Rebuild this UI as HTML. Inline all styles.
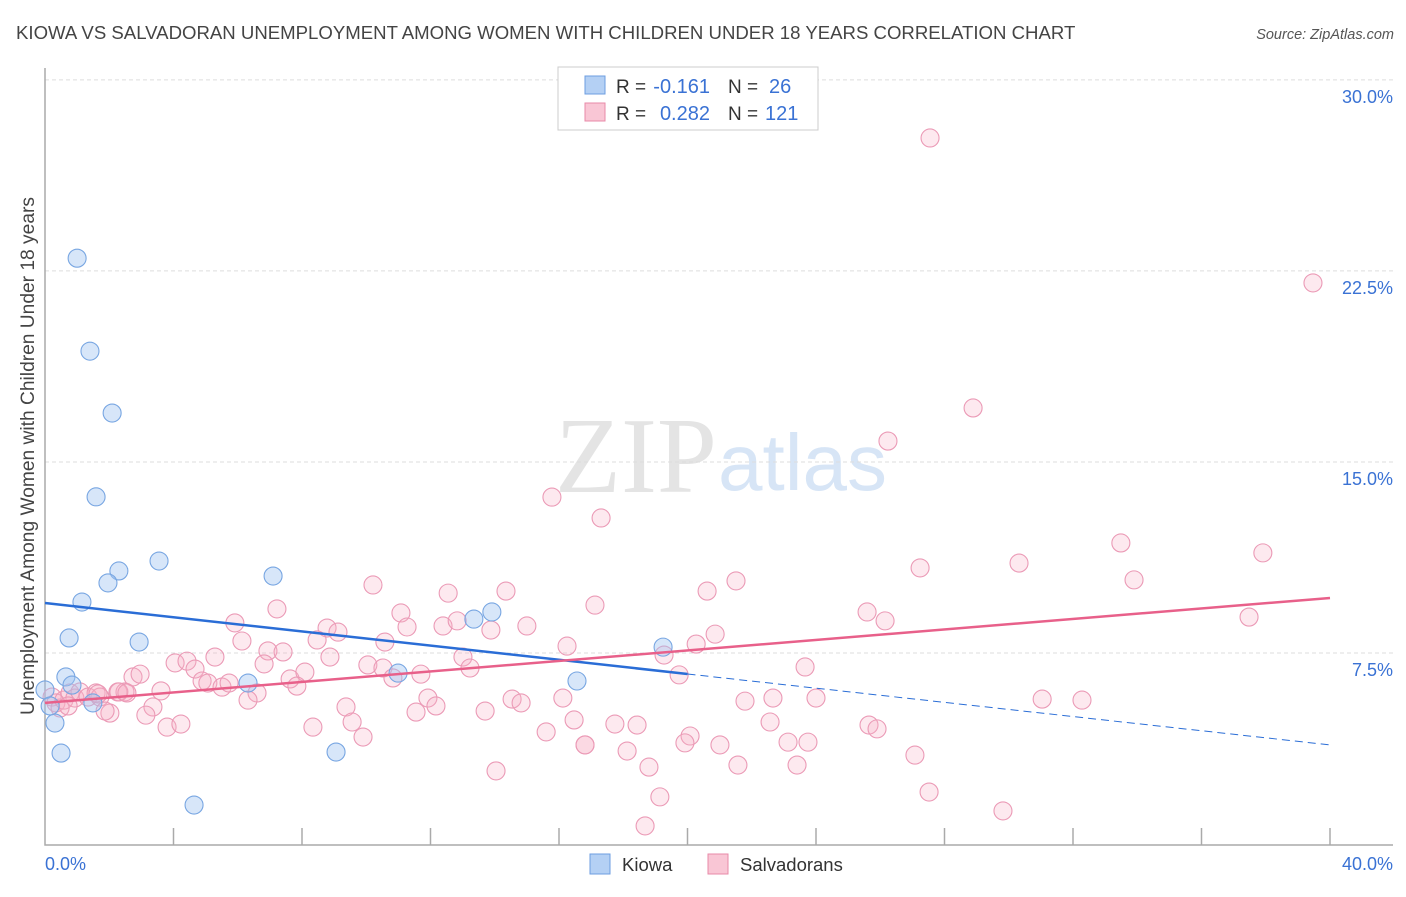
<!DOCTYPE html>
<html><head><meta charset="utf-8"><style>
body{margin:0;background:#fff;font-family:"Liberation Sans",sans-serif;}
svg text{font-family:"Liberation Sans",sans-serif;}
</style></head><body>
<svg id="chart" width="1406" height="892" xmlns="http://www.w3.org/2000/svg">
<text x="16" y="39" font-size="18.6" fill="#444">KIOWA VS SALVADORAN UNEMPLOYMENT AMONG WOMEN WITH CHILDREN UNDER 18 YEARS CORRELATION CHART</text>
<text x="1394" y="39" font-size="14.5" fill="#555" font-style="italic" text-anchor="end">Source: ZipAtlas.com</text>
<g>
<text x="555" y="492" font-size="108" fill="#e4e4e4" style="font-family:'Liberation Serif',serif">ZIP</text>
<text x="718" y="490" font-size="80" fill="#d7e5f6">atlas</text>
</g>
<g id="grid"></g>
<g id="axes"></g>
<g id="pts"></g>
<g id="lines"></g>
<text transform="translate(34,456) rotate(-90)" font-size="19.2" fill="#444" text-anchor="middle">Unemployment Among Women with Children Under 18 years</text>
<g>
<rect x="558" y="67" width="260" height="63" fill="#fff" stroke="#ccc"/>
<rect x="585" y="76" width="20" height="18" fill="#b4d0f4" stroke="#6d9ee0"/>
<text x="616" y="93" font-size="19" fill="#333">R =</text>
<text x="710" y="93" font-size="20" fill="#3a72d4" text-anchor="end">-0.161</text>
<text x="728" y="93" font-size="19" fill="#333">N =</text>
<text x="769" y="93" font-size="20" fill="#3a72d4">26</text>
<rect x="585" y="103" width="20" height="18" fill="#f9c6d5" stroke="#e88aa8"/>
<text x="616" y="120" font-size="19" fill="#333">R =</text>
<text x="710" y="120" font-size="20" fill="#3a72d4" text-anchor="end">0.282</text>
<text x="728" y="120" font-size="19" fill="#333">N =</text>
<text x="765" y="120" font-size="20" fill="#3a72d4">121</text>
</g>
<g>
<rect x="590" y="854" width="20" height="20" fill="#b4d0f4" stroke="#6d9ee0"/>
<text x="622" y="871" font-size="18.5" fill="#333">Kiowa</text>
<rect x="708" y="854" width="20" height="20" fill="#f9c6d5" stroke="#e88aa8"/>
<text x="740" y="871" font-size="18.5" fill="#333">Salvadorans</text>
</g>
</svg>
<script>
const yTicks=[7.5,15,22.5,30];
const yTickLabels=["7.5%","15.0%","22.5%","30.0%"];
const xTickVals=[4,8,12,16,20,24,28,32,36,40];
const xLabels=["0.0%","40.0%"];
const kiowaX=[1.0,1.4,2.09,1.59,1.15,2.3,1.96,3.55,0.75,2.93,7.1,13.35,13.91,10.99,16.56,19.24,0.65,0.84,1.49,6.32,0.31,0.5,9.06,4.64,0.0,0.16];
const kiowaY=[23.0,19.35,16.92,13.63,9.5,10.72,10.25,11.11,8.09,7.93,10.52,8.83,9.11,6.71,6.4,7.73,6.56,6.24,5.54,6.32,4.75,3.57,3.61,1.53,6.05,5.42];
const salvX=[0.22,0.34,0.47,0.59,0.78,0.93,1.09,1.34,1.59,1.71,2.02,2.27,2.49,1.87,0.72,10.21,12.55,7.22,11.08,11.27,12.39,12.83,5.91,6.13,8.78,9.12,8.47,10.58,13.88,6.94,7.41,5.29,8.87,4.05,4.42,4.67,6.82,10.05,10.52,13.01,13.23,2.74,2.96,4.89,5.07,5.51,5.73,6.6,6.32,7.63,8.09,7.84,10.83,11.7,11.92,12.17,11.55,13.7,3.61,2.3,2.55,1.65,3.36,3.14,3.8,4.23,9.37,9.56,9.9,8.34,14.04,15.78,17.31,14.35,15.0,17.12,16.25,19.27,20.27,20.86,20.61,21.51,19.74,23.66,25.59,26.15,27.24,14.54,14.82,16.12,16.47,15.6,17.74,18.43,16.81,16.81,18.12,18.8,20.08,19.92,21.01,21.57,19.14,18.68,21.79,22.66,24.0,22.57,23.13,23.75,23.41,25.65,25.9,27.08,27.52,27.55,39.47,28.89,26.24,33.49,37.91,30.32,33.9,37.48,31.04,32.28,29.82];
const salvY=[5.77,5.54,5.34,5.65,5.93,5.73,5.97,5.77,5.93,5.77,5.14,5.97,5.97,5.22,5.42,10.17,9.85,9.23,9.07,8.52,8.56,8.76,8.68,7.97,8.48,8.32,8.01,7.93,8.4,7.58,7.54,7.34,7.34,7.11,7.18,6.87,7.07,7.03,6.91,7.34,6.91,6.56,6.67,6.4,6.32,6.16,6.32,5.93,5.65,6.48,6.75,6.2,6.52,6.67,5.73,5.42,5.18,5.22,6.01,5.97,5.93,5.89,5.38,5.06,4.59,4.71,5.38,4.79,4.2,4.59,2.87,13.62,12.8,9.93,8.56,9.38,7.77,7.42,7.85,8.24,9.93,10.33,6.64,6.95,9.11,8.76,10.84,5.69,5.54,5.73,4.87,4.4,4.71,4.67,3.89,3.89,3.65,3.02,4.24,3.97,3.89,3.1,1.85,0.71,5.61,5.73,5.73,4.79,4.0,4.0,3.1,4.67,4.52,3.49,2.04,27.72,22.03,17.12,15.82,11.82,11.43,11.03,10.37,8.91,5.69,5.65,1.3];
const kiowaTrend=[9.46,3.89];
const salvTrend=[5.54,9.66];
const NS="http://www.w3.org/2000/svg";
const X=v=>45+v*32.125, Y=v=>844-v*25.47;
function mk(p,t,a){const e=document.createElementNS(NS,t);for(const k in a)e.setAttribute(k,a[k]);p.appendChild(e);return e;}
const grid=document.getElementById('grid'),axes=document.getElementById('axes'),pts=document.getElementById('pts'),lines=document.getElementById('lines');
yTicks.forEach((v,i)=>{
 const l=mk(grid,'line',{x1:45,x2:1393,y1:Y(v),y2:Y(v),stroke:'#ddd','stroke-dasharray':'4,3'});
 
 
 const t=mk(grid,'text',{x:1393,y:Y(v)+23,'font-size':18,fill:'#3a72d4','text-anchor':'end'});
 t.textContent=yTickLabels[i];
 
 
});
const ax=mk(axes,'path',{d:'M45,68V845H1393',stroke:'#aaa',fill:'none','stroke-width':1.5});


xTickVals.forEach(v=>{
 const t=mk(axes,'line',{x1:X(v),x2:X(v),y1:828,y2:845,stroke:'#aaa','stroke-width':1.5});
 
 
});
const xl0=mk(axes,'text',{x:45,y:870,'font-size':18,fill:'#3a72d4'});xl0.textContent=xLabels[0];


const xl1=mk(axes,'text',{x:1393,y:870,'font-size':18,fill:'#3a72d4','text-anchor':'end'});xl1.textContent=xLabels[1];


salvX.forEach((x,i)=>{
 const c=mk(pts,'circle',{cx:X(x),cy:Y(salvY[i]),r:9,fill:'rgba(248,175,198,0.28)',stroke:'#eb9ab6','stroke-width':1.1});
 
 
});
kiowaX.forEach((x,i)=>{
 const c=mk(pts,'circle',{cx:X(x),cy:Y(kiowaY[i]),r:9,fill:'rgba(160,195,240,0.42)',stroke:'#78a6e2','stroke-width':1.1});
 
 
});
const kAt=v=>kiowaTrend[0]+(kiowaTrend[1]-kiowaTrend[0])*v/40;
const k1=mk(lines,'line',{x1:X(0),y1:Y(kAt(0)),x2:X(20),y2:Y(kAt(20)),stroke:'#2a6dd6','stroke-width':2.5});


const k2=mk(lines,'line',{x1:X(20),y1:Y(kAt(20)),x2:X(40),y2:Y(kAt(40)),stroke:'#2a6dd6','stroke-width':1,'stroke-dasharray':'8,5'});


const s1=mk(lines,'line',{x1:X(0),y1:Y(salvTrend[0]),x2:X(40),y2:Y(salvTrend[1]),stroke:'#e8608a','stroke-width':2.5});


</script>
</body></html>
